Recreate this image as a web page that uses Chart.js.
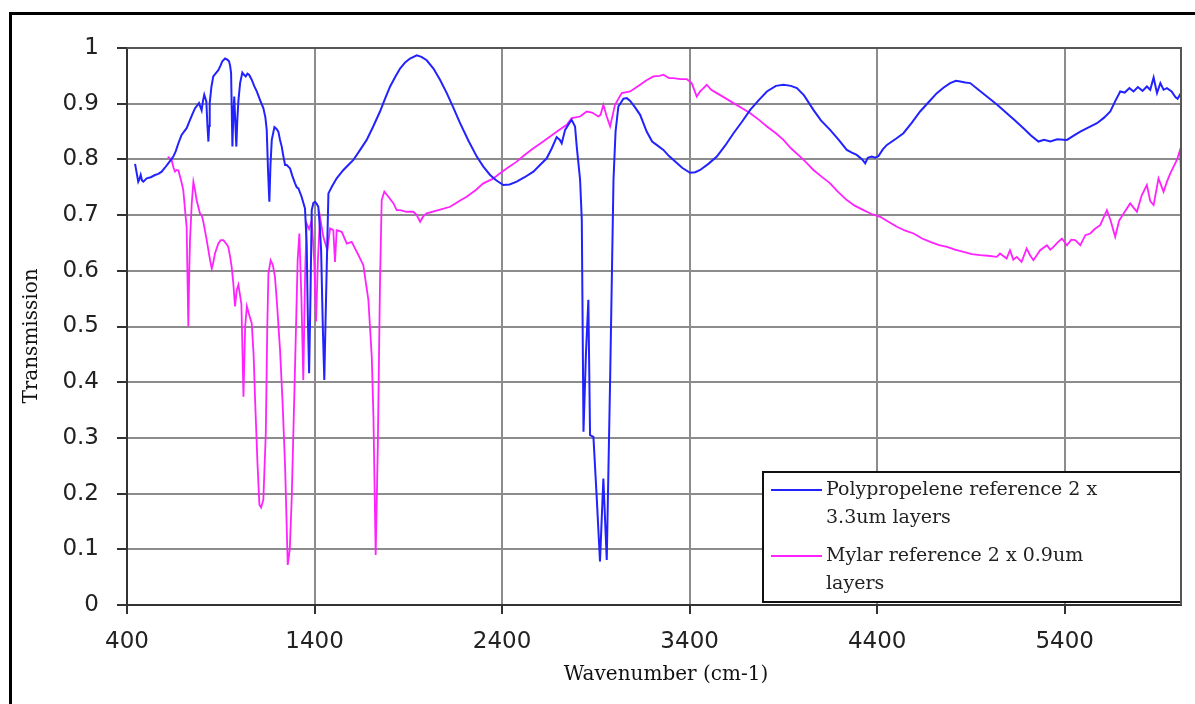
<!DOCTYPE html>
<html>
<head>
<meta charset="utf-8">
<title>Transmission spectra</title>
<script src="https://cdn.jsdelivr.net/npm/chart.js@4.4.1/dist/chart.umd.min.js"></script>
<style>
  html, body { margin: 0; padding: 0; background: #fff; }
  #wrap { width: 1195px; height: 704px; }
</style>
</head>
<body>
<div id="wrap"><canvas id="spectrum" width="1195" height="704"></canvas></div>
<script>
// Polypropylene film, 2 x 3.3um
const ppWavenumber = [
  443, 452, 460, 467, 473, 480, 487, 505, 527, 549,
  567, 585, 602, 620, 647, 660, 674, 691, 718, 736,
  750, 763, 784, 798, 805, 812, 823, 829, 834, 838,
  841, 850, 860, 874, 887, 898, 908, 923, 935, 944,
  950, 955, 962, 967, 972, 977, 983, 988, 994, 1003,
  1015, 1024, 1033, 1042, 1051, 1065, 1078, 1092, 1109, 1127,
  1138, 1145, 1152, 1159, 1165, 1172, 1186, 1196, 1207, 1216,
  1225, 1234, 1243, 1252, 1260, 1269, 1282, 1296, 1305, 1314,
  1331, 1349, 1358, 1364, 1371, 1378, 1385, 1394, 1403, 1412,
  1420, 1428, 1435, 1444, 1452, 1458, 1465, 1474, 1492, 1518,
  1554, 1580, 1607, 1643, 1678, 1714, 1749, 1776, 1803, 1830,
  1856, 1883, 1909, 1945, 1970, 1998, 2034, 2069, 2105, 2140,
  2176, 2220, 2265, 2300, 2336, 2370, 2407, 2440, 2478, 2520,
  2567, 2602, 2638, 2665, 2691, 2708, 2718, 2736, 2760, 2771,
  2789, 2798, 2816, 2825, 2834, 2847, 2860, 2869, 2887, 2905,
  2922, 2940, 2958, 2976, 2994, 3005, 3020, 3047, 3065, 3083,
  3110, 3136, 3171, 3200, 3224, 3260, 3290, 3314, 3360, 3402,
  3430, 3456, 3500, 3545, 3590, 3634, 3680, 3723, 3770, 3812,
  3860, 3900, 3940, 3972, 4010, 4060, 4100, 4149, 4195, 4238,
  4265, 4291, 4320, 4336, 4350, 4371, 4390, 4407, 4430, 4452,
  4500, 4540, 4585, 4629, 4675, 4718, 4755, 4789, 4820, 4843,
  4870, 4896, 4940, 4985, 5040, 5091, 5135, 5180, 5220, 5260,
  5290, 5323, 5360, 5412, 5450, 5483, 5530, 5572, 5610, 5643,
  5670, 5696, 5720, 5745, 5767, 5790, 5815, 5838, 5856, 5874,
  5892, 5910, 5927, 5945, 5970, 5990, 6002, 6020
];
const ppTransmission = [
  0.792, 0.775, 0.760, 0.765, 0.772, 0.762, 0.760, 0.766, 0.768, 0.772,
  0.774, 0.778, 0.785, 0.793, 0.805, 0.815, 0.829, 0.844, 0.856, 0.871,
  0.882, 0.892, 0.901, 0.888, 0.905, 0.916, 0.904, 0.860, 0.832, 0.860,
  0.901, 0.930, 0.949, 0.955, 0.960, 0.968, 0.976, 0.981, 0.979, 0.976,
  0.968, 0.955, 0.823, 0.880, 0.913, 0.870, 0.823, 0.870, 0.905, 0.937,
  0.956, 0.952, 0.949, 0.954, 0.952, 0.943, 0.932, 0.922, 0.907, 0.892,
  0.875, 0.853, 0.780, 0.724, 0.790, 0.835, 0.858, 0.855, 0.850, 0.835,
  0.823, 0.805, 0.790, 0.790, 0.787, 0.784, 0.770, 0.757, 0.750, 0.748,
  0.733, 0.712, 0.649, 0.520, 0.416, 0.550, 0.709, 0.722, 0.724, 0.720,
  0.715, 0.680, 0.637, 0.500, 0.404, 0.500, 0.607, 0.739, 0.751, 0.766,
  0.781, 0.790, 0.799, 0.817, 0.835, 0.860, 0.886, 0.909, 0.931, 0.948,
  0.963, 0.974, 0.981, 0.987, 0.984, 0.978, 0.963, 0.943, 0.919, 0.893,
  0.865, 0.834, 0.805, 0.787, 0.772, 0.762, 0.754, 0.755, 0.760, 0.768,
  0.778, 0.790, 0.802, 0.820, 0.840, 0.835, 0.829, 0.853, 0.866, 0.871,
  0.859, 0.823, 0.763, 0.691, 0.311, 0.450, 0.548, 0.305, 0.302, 0.190,
  0.078, 0.227, 0.081, 0.404, 0.763, 0.850, 0.895, 0.909, 0.910, 0.905,
  0.893, 0.880, 0.850, 0.832, 0.826, 0.817, 0.806, 0.799, 0.785, 0.776,
  0.777, 0.781, 0.792, 0.805, 0.825, 0.847, 0.868, 0.889, 0.907, 0.922,
  0.932, 0.934, 0.932, 0.928, 0.915, 0.889, 0.870, 0.853, 0.835, 0.817,
  0.812, 0.808, 0.800, 0.793, 0.803, 0.805, 0.803, 0.806, 0.818, 0.826,
  0.837, 0.847, 0.866, 0.886, 0.903, 0.919, 0.929, 0.937, 0.941, 0.940,
  0.938, 0.937, 0.925, 0.913, 0.898, 0.883, 0.870, 0.856, 0.843, 0.832,
  0.835, 0.832, 0.836, 0.835, 0.843, 0.850, 0.858, 0.865, 0.875, 0.886,
  0.905, 0.922, 0.920, 0.928, 0.922, 0.930, 0.923, 0.931, 0.925, 0.947,
  0.919, 0.937, 0.925, 0.928, 0.922, 0.912, 0.909, 0.919
];

// Mylar film, 2 x 0.9um
const mylarWavenumber = [
  617, 638, 648, 656, 665, 674, 690, 700, 712, 718,
  727, 732, 736, 745, 754, 763, 771, 789, 798, 807,
  825, 843, 852, 860, 869, 887, 900, 914, 930, 940,
  950, 958, 967, 976, 985, 994, 1010, 1021, 1030, 1039,
  1052, 1065, 1075, 1083, 1095, 1106, 1115, 1127, 1140, 1148,
  1154, 1166, 1178, 1189, 1200, 1216, 1230, 1243, 1257, 1268,
  1278, 1296, 1310, 1319, 1330, 1340, 1350, 1358, 1371, 1385,
  1398, 1408, 1418, 1429, 1447, 1468, 1483, 1500, 1509, 1518,
  1545, 1572, 1598, 1634, 1660, 1687, 1705, 1714, 1726, 1737,
  1749, 1758, 1772, 1794, 1821, 1838, 1856, 1890, 1927, 1945,
  1963, 1980, 1998, 2060, 2123, 2170, 2211, 2260, 2300, 2350,
  2389, 2430, 2478, 2520, 2567, 2610, 2656, 2700, 2745, 2771,
  2816, 2851, 2880, 2913, 2925, 2940, 2958, 2976, 3002, 3038,
  3083, 3136, 3170, 3207, 3240, 3260, 3290, 3314, 3350, 3385,
  3411, 3438, 3456, 3474, 3491, 3515, 3545, 3590, 3634, 3680,
  3723, 3770, 3812, 3860, 3900, 3940, 3989, 4020, 4060, 4100,
  4149, 4190, 4238, 4280, 4327, 4370, 4416, 4460, 4505, 4550,
  4594, 4640, 4683, 4730, 4772, 4815, 4860, 4905, 4949, 4990,
  5038, 5055, 5090, 5108, 5126, 5144, 5170, 5197, 5215, 5233,
  5269, 5305, 5323, 5340, 5360, 5385, 5412, 5435, 5456, 5483,
  5510, 5536, 5560, 5589, 5625, 5645, 5669, 5690, 5714, 5749,
  5770, 5785, 5810, 5838, 5856, 5874, 5900, 5927, 5945, 5963,
  5998, 6015, 6020
];
const mylarTransmission = [
  0.805, 0.799, 0.785, 0.778, 0.781, 0.780, 0.760, 0.745, 0.700, 0.679,
  0.500, 0.600, 0.655, 0.720, 0.760, 0.745, 0.727, 0.703, 0.700, 0.688,
  0.655, 0.619, 0.604, 0.615, 0.631, 0.649, 0.655, 0.655, 0.648, 0.643,
  0.625, 0.607, 0.577, 0.536, 0.565, 0.575, 0.540, 0.374, 0.500, 0.536,
  0.520, 0.506, 0.450, 0.368, 0.260, 0.180, 0.175, 0.189, 0.308, 0.500,
  0.595, 0.619, 0.610, 0.589, 0.540, 0.458, 0.360, 0.248, 0.072, 0.100,
  0.189, 0.428, 0.620, 0.667, 0.550, 0.404, 0.600, 0.685, 0.675, 0.690,
  0.620, 0.509, 0.620, 0.697, 0.661, 0.637, 0.676, 0.673, 0.616, 0.673,
  0.670, 0.649, 0.652, 0.628, 0.610, 0.548, 0.446, 0.338, 0.090, 0.278,
  0.578, 0.727, 0.742, 0.733, 0.721, 0.709, 0.709, 0.706, 0.706, 0.700,
  0.688, 0.698, 0.703, 0.709, 0.715, 0.725, 0.733, 0.745, 0.757, 0.765,
  0.775, 0.785, 0.796, 0.808, 0.820, 0.830, 0.841, 0.852, 0.862, 0.874,
  0.877, 0.886, 0.884, 0.877, 0.880, 0.898, 0.877, 0.859, 0.898, 0.919,
  0.922, 0.934, 0.942, 0.949, 0.950, 0.952, 0.946, 0.946, 0.944, 0.944,
  0.937, 0.913, 0.922, 0.928, 0.934, 0.925, 0.919, 0.910, 0.901, 0.892,
  0.883, 0.871, 0.859, 0.847, 0.835, 0.820, 0.805, 0.795, 0.781, 0.770,
  0.757, 0.742, 0.727, 0.717, 0.709, 0.702, 0.697, 0.688, 0.679, 0.672,
  0.667, 0.658, 0.652, 0.646, 0.643, 0.638, 0.634, 0.630, 0.628, 0.627,
  0.625, 0.631, 0.622, 0.637, 0.620, 0.625, 0.616, 0.640, 0.628, 0.619,
  0.637, 0.646, 0.638, 0.643, 0.650, 0.658, 0.646, 0.656, 0.655, 0.646,
  0.664, 0.667, 0.675, 0.682, 0.709, 0.690, 0.661, 0.690, 0.703, 0.721,
  0.712, 0.706, 0.735, 0.754, 0.725, 0.718, 0.766, 0.742, 0.760, 0.775,
  0.799, 0.817, 0.775
];

const xTicks = [400, 1400, 2400, 3400, 4400, 5400];
const xTitle = 'Wavenumber (cm-1)';
const yTitle = 'Transmission';

const toPoints = (xs, ys) => xs.map((x, i) => ({ x: x, y: ys[i] }));

// white page, outer frame, plot border, axis titles
const frame = {
  id: 'frame',
  beforeDraw(chart) {
    const ctx = chart.ctx;
    ctx.save();
    ctx.fillStyle = '#fff';
    ctx.fillRect(0, 0, chart.width, chart.height);
    ctx.strokeStyle = '#000';
    ctx.lineWidth = 3;
    ctx.strokeRect(10.5, 13.5, chart.width + 20, chart.height + 20);
    ctx.restore();
  },
  afterDraw(chart) {
    const { ctx, chartArea } = chart;
    ctx.save();
    ctx.strokeStyle = '#555';
    ctx.lineWidth = 2;
    ctx.beginPath();
    ctx.moveTo(chartArea.left, chartArea.top);
    ctx.lineTo(chartArea.right, chartArea.top);
    ctx.lineTo(chartArea.right, chartArea.bottom);
    ctx.stroke();

    ctx.fillStyle = '#111';
    ctx.font = '20px "DejaVu Serif"';
    ctx.textAlign = 'center';
    ctx.textBaseline = 'middle';
    ctx.fillText(xTitle, 666, 675);
    ctx.translate(32, 336);
    ctx.rotate(-Math.PI / 2);
    ctx.fillText(yTitle, 0, 0);
    ctx.restore();
  }
};

function wrapText(ctx, text, maxWidth) {
  const words = text.split(' ');
  const lines = [];
  let line = '';
  words.forEach(w => {
    const test = line ? line + ' ' + w : w;
    if (line && ctx.measureText(test).width > maxWidth) {
      lines.push(line);
      line = w;
    } else {
      line = test;
    }
  });
  lines.push(line);
  return lines;
}

// boxed legend in the lower right corner of the plot
const legendBox = {
  id: 'legendBox',
  afterDatasetsDraw(chart) {
    const { ctx, chartArea } = chart;
    const w = 418, h = 130;
    const x0 = chartArea.right - w;
    const y0 = chartArea.bottom - 3 - h;
    ctx.save();
    ctx.fillStyle = '#fff';
    ctx.fillRect(x0, y0, w, h);
    ctx.strokeStyle = '#111';
    ctx.lineWidth = 2;
    ctx.strokeRect(x0, y0, w, h);
    ctx.font = '19px "DejaVu Serif"';
    ctx.textBaseline = 'middle';
    let y = y0 + 18;
    chart.data.datasets.forEach(ds => {
      const lines = wrapText(ctx, ds.label, 300);
      ctx.strokeStyle = ds.borderColor;
      ctx.lineWidth = 2;
      ctx.beginPath();
      ctx.moveTo(x0 + 8, y);
      ctx.lineTo(x0 + 59, y);
      ctx.stroke();
      ctx.fillStyle = '#222';
      lines.forEach((t, i) => ctx.fillText(t, x0 + 63, y + i * 28.5));
      y += lines.length * 28.5 + 9;
    });
    ctx.restore();
  }
};

const ctx = document.getElementById('spectrum').getContext('2d');
const chart = new Chart(ctx, {
  type: 'line',
  data: {
    datasets: [{
      label: 'Polypropelene reference 2 x 3.3um layers',
      data: toPoints(ppWavenumber, ppTransmission),
      borderColor: '#2222ff',
      borderWidth: 2,
      pointRadius: 0,
      tension: 0
    }, {
      label: 'Mylar reference 2 x 0.9um layers',
      data: toPoints(mylarWavenumber, mylarTransmission),
      borderColor: '#ff22ff',
      borderWidth: 1.8,
      pointRadius: 0,
      tension: 0
    }]
  },
  options: {
    responsive: false,
    animation: false,
    events: [],
    layout: { padding: { top: 48, right: 14, left: 0, bottom: 0 } },
    plugins: {
      legend: { display: false },
      tooltip: { enabled: false }
    },
    scales: {
      x: {
        type: 'linear',
        min: 400,
        max: 6020,
        afterBuildTicks: scale => { scale.ticks = xTicks.map(v => ({ value: v })); },
        afterFit: scale => { scale.height = 99; },
        grid: { color: '#8c8c8c', lineWidth: 2, tickLength: 9, tickColor: '#333', tickWidth: 2 },
        border: { color: '#333', width: 2 },
        ticks: {
          autoSkip: false,
          maxRotation: 0,
          padding: 14,
          color: '#222',
          font: { family: 'DejaVu Sans', size: 23 },
          callback: v => String(v)
        }
      },
      y: {
        min: 0,
        max: 1,
        afterFit: scale => { scale.width = 127; },
        grid: { color: '#8c8c8c', lineWidth: 2, tickLength: 10, tickColor: '#333', tickWidth: 2 },
        border: { color: '#333', width: 2 },
        ticks: {
          stepSize: 0.1,
          padding: 18,
          color: '#222',
          font: { family: 'DejaVu Sans', size: 23 },
          callback: v => String(Math.round(v * 10) / 10)
        }
      }
    }
  },
  plugins: [frame, legendBox]
});
</script>
</body>
</html>
